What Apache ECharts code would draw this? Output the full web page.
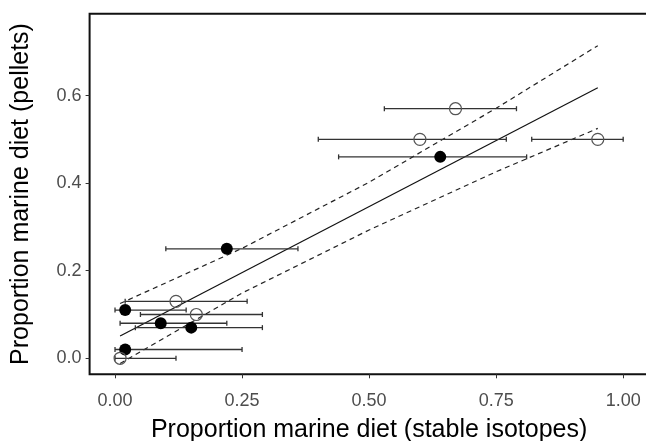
<!DOCTYPE html>
<html>
<head>
<meta charset="utf-8">
<script src="https://cdn.jsdelivr.net/npm/echarts@6/dist/echarts.min.js"></script>
<style>
  html, body { margin: 0; padding: 0; background: #fff; }
  #chart { width: 646px; height: 441px; }
</style>
</head>
<body>
<div id="chart"></div>
<script>
// points: stable isotope estimate (x), pellet proportion (y), isotope interval (xLow..xHigh)
const filledX = [0.22, 0.02, 0.09, 0.15, 0.02, 0.64]
const filledY = [0.25, 0.11, 0.08, 0.07, 0.02, 0.46]
const filledLow = [0.10, 0.00, 0.01, 0.04, 0.00, 0.44]
const filledHigh = [0.36, 0.14, 0.22, 0.29, 0.25, 0.81]

const openX = [0.12, 0.16, 0.01, 0.67, 0.60, 0.95]
const openY = [0.13, 0.10, 0.00, 0.57, 0.50, 0.50]
const openLow = [0.02, 0.05, 0.00, 0.53, 0.40, 0.82]
const openHigh = [0.26, 0.29, 0.12, 0.79, 0.77, 1.00]

// fitted line and its band
const fitX = [0.01, 0.95]
const fitY = [0.051, 0.618]
const bandX = [0.01, 0.25, 0.50, 0.75, 0.95]
const bandUpper = [0.125, 0.251, 0.402, 0.571, 0.714]
const bandLower = [-0.012, 0.149, 0.293, 0.426, 0.525]

const xTicks = [0, 0.25, 0.5, 0.75, 1]
const yTicks = [0, 0.2, 0.4, 0.6]

const zip = (...cols) => cols[0].map((_, i) => cols.map(c => c[i]))

const font = 'Liberation Sans, Arial, Helvetica, sans-serif'

function errorBar(params, api) {
  const y = api.value(1)
  const lo = api.coord([api.value(2), y])
  const hi = api.coord([api.value(3), y])
  const h = 2.5
  const style = { stroke: '#333', lineWidth: 1.3 }
  return {
    type: 'group',
    children: [
      { type: 'line', shape: { x1: lo[0], y1: lo[1], x2: hi[0], y2: hi[1] }, style },
      { type: 'line', shape: { x1: lo[0], y1: lo[1] - h, x2: lo[0], y2: lo[1] + h }, style },
      { type: 'line', shape: { x1: hi[0], y1: hi[1] - h, x2: hi[0], y2: hi[1] + h }, style },
    ],
  }
}

const chart = echarts.init(document.getElementById('chart'))

chart.setOption({
  animation: false,
  backgroundColor: '#fff',
  grid: {
    left: 89.6, top: 13.7, width: 559, height: 360.6,
    containLabel: false, outerBoundsMode: 'none',
    show: true, borderColor: '#111', borderWidth: 2, backgroundColor: 'transparent',
  },
  xAxis: {
    type: 'value',
    min: -0.05, max: 1.05,
    name: 'Proportion marine diet (stable isotopes)',
    nameLocation: 'middle',
    nameGap: 43,
    nameTextStyle: { fontFamily: font, fontSize: 25, color: '#000' },
    axisLine: { show: false, onZero: false },
    axisTick: { show: true, customValues: xTicks, length: 4, lineStyle: { color: '#333', width: 1 } },
    axisLabel: {
      customValues: xTicks, margin: 18,
      fontFamily: font, fontSize: 18, color: '#4d4d4d',
      formatter: v => v.toFixed(2),
    },
    splitLine: { show: false },
  },
  yAxis: {
    type: 'value',
    min: -0.0366, max: 0.787,
    name: 'Proportion marine diet (pellets)',
    nameLocation: 'middle',
    nameGap: 56,
    nameTextStyle: { fontFamily: font, fontSize: 25, color: '#000' },
    axisLine: { show: false, onZero: false },
    axisTick: { show: true, customValues: yTicks, length: 4, lineStyle: { color: '#333', width: 1 } },
    axisLabel: {
      customValues: yTicks, margin: 8,
      fontFamily: font, fontSize: 18, color: '#4d4d4d',
      formatter: v => v.toFixed(1),
    },
    splitLine: { show: false },
  },
  series: [
    {
      type: 'line',
      data: zip(bandX, bandUpper),
      showSymbol: false,
      lineStyle: { color: '#222', width: 1.2, type: [5, 4] },
      z: 3,
    },
    {
      type: 'line',
      data: zip(bandX, bandLower),
      showSymbol: false,
      lineStyle: { color: '#222', width: 1.2, type: [5, 4] },
      z: 3,
    },
    {
      type: 'line',
      data: zip(fitX, fitY),
      showSymbol: false,
      lineStyle: { color: '#111', width: 1.2 },
      z: 3,
    },
    {
      type: 'custom',
      renderItem: errorBar,
      data: zip(filledX, filledY, filledLow, filledHigh),
      encode: { x: [0, 2, 3], y: 1 },
      z: 4,
    },
    {
      type: 'custom',
      renderItem: errorBar,
      data: zip(openX, openY, openLow, openHigh),
      encode: { x: [0, 2, 3], y: 1 },
      z: 4,
    },
    {
      type: 'scatter',
      data: zip(filledX, filledY),
      symbol: 'circle',
      symbolSize: 12,
      itemStyle: { color: '#000', opacity: 1 },
      z: 5,
    },
    {
      type: 'scatter',
      data: zip(openX, openY),
      symbol: 'circle',
      symbolSize: 12,
      itemStyle: { color: 'rgba(0,0,0,0)', borderColor: '#555', borderWidth: 1.2, opacity: 1 },
      z: 5,
    },
  ],
})
</script>
</body>
</html>
